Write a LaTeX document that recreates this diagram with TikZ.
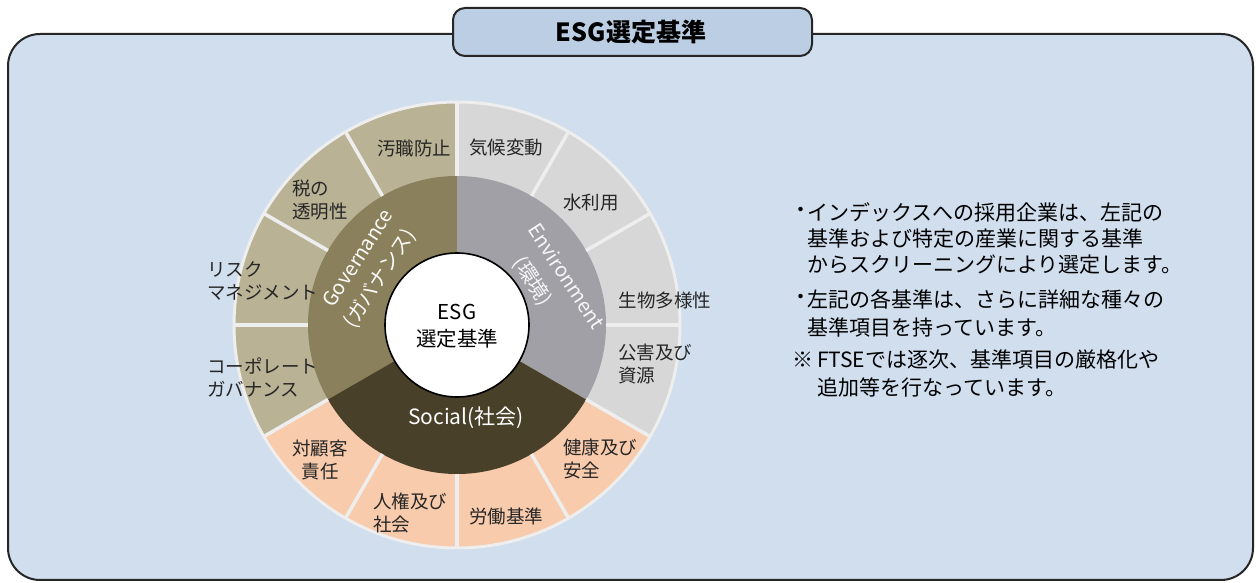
\documentclass[tikz,border=0pt]{standalone}
\usepackage{fontspec}
\setmainfont{Noto Sans CJK JP}
\usepackage{xcolor}
\usepackage{tikz}

\definecolor{boxblue}{HTML}{D0DEEE}
\definecolor{tabblue}{HTML}{BBCEE4}
\definecolor{govlight}{HTML}{B9B294}
\definecolor{govdark}{HTML}{8B805C}
\definecolor{envlight}{HTML}{D7D7D7}
\definecolor{envdark}{HTML}{A0A0A6}
\definecolor{soclight}{HTML}{F8CBAC}
\definecolor{socdark}{HTML}{484028}
\definecolor{seplight}{HTML}{EEEEEE}
\definecolor{inktext}{HTML}{262626}

\tikzset{
	segtxt/.style={font=\fontsize{18.5}{23}\selectfont, text=inktext, inner sep=0pt, align=left},
	ringtxt/.style={font=\fontsize{20}{24}\selectfont, inner sep=0pt},
	notetxt/.style={font=\fontsize{21}{27}\selectfont, text=black, inner sep=0pt, align=left},
}

\begin{document}
\begin{tikzpicture}[x=1pt,y=1pt]
	\useasboundingbox (0,0) rectangle (1256,583);

	% frame and title tab
	\draw[line width=2pt, draw=black!85, fill=boxblue, rounded corners=32pt] (8,3) rectangle (1253,549);
	\draw[line width=2pt, draw=black!85, fill=tabblue, rounded corners=12pt] (453,527) rectangle (812,575);
	\node[font=\fontsize{25}{28}\selectfont\bfseries] (title) at (631,551) {ESG選定基準};

	% wheel
	\begin{scope}[shift={(457,258)}]
		\fill[govlight] (0,0) -- (90:224pt) arc[start angle=90, end angle=210, radius=224pt] -- cycle;
		\fill[envlight] (0,0) -- (-30:224pt) arc[start angle=-30, end angle=90, radius=224pt] -- cycle;
		\fill[soclight] (0,0) -- (210:224pt) arc[start angle=210, end angle=330, radius=224pt] -- cycle;
		\fill[govdark] (0,0) -- (90:149pt) arc[start angle=90, end angle=210, radius=149pt] -- cycle;
		\fill[envdark] (0,0) -- (-30:149pt) arc[start angle=-30, end angle=90, radius=149pt] -- cycle;
		\fill[socdark] (0,0) -- (210:149pt) arc[start angle=210, end angle=330, radius=149pt] -- cycle;
		\foreach \a in {0,30,...,330}
			\draw[seplight, line width=3.5pt] (\a:149pt) -- (\a:224pt);
		\draw[seplight, line width=3pt] (0,0) circle[radius=223pt];
		\draw[line width=1.6pt, fill=white] (0,0) circle[radius=72pt];

		\node[ringtxt, text=white!95!govlight, rotate=57] (gov) at (146:120pt) {Governance};
		\node[ringtxt, text=white!95!govlight, rotate=57] (govjp) at (149:90pt) {(ガバナンス)};
		\node[ringtxt, text=white!92!envdark, rotate=-57] (env) at (24:120pt) {Environment};
		\node[ringtxt, text=white!92!envdark, rotate=-57] (envjp) at (30:87pt) {(環境)};
		\node[ringtxt, text=white, font=\fontsize{21}{24}\selectfont] (soc) at (9,-93) {Social(社会)};
		\node[ringtxt, align=center, font=\fontsize{20.5}{27}\selectfont] (esg) at (0,-1) {ESG\\選定基準};
	\end{scope}

	\node[segtxt] (corrupt) at (414,435) {汚職防止};
	\node[segtxt] (climate) at (506,435) {気候変動};
	\node[segtxt] (water) at (591,380) {水利用};
	\node[segtxt] (bio) at (665,283) {生物多様性};
	\node[segtxt, anchor=west] (pollution) at (618,219) {公害及び\\資源};
	\node[segtxt, anchor=west] (health) at (563,124) {健康及び\\安全};
	\node[segtxt] (labour) at (506,67) {労働基準};
	\node[segtxt, anchor=west] (rights) at (373,70) {人権及び\\社会};
	\node[segtxt, align=center] (customer) at (320,123) {対顧客\\責任};
	\node[segtxt, anchor=west] (corpgov) at (207,205) {コーポレート\\ガバナンス};
	\node[segtxt, anchor=west] (risk) at (207,302) {リスク\\マネジメント};
	\node[segtxt, anchor=west] (tax) at (292,383) {税の\\透明性};

	% notes on the right
	\node[notetxt] (markA) at (801,371) {・};
	\node[notetxt, anchor=west, font=\fontsize{21}{26}\selectfont] (noteA) at (807,345) {インデックスへの採用企業は、左記の\\基準および特定の産業に関する基準\\からスクリーニングにより選定します。};
	\node[notetxt] (markB) at (801,284) {・};
	\node[notetxt, anchor=west, font=\fontsize{21}{28}\selectfont] (noteB) at (807,270) {左記の各基準は、さらに詳細な種々の\\基準項目を持っています。};
	\node[notetxt] (markC) at (803,223) {※};
	\node[notetxt, anchor=west, font=\fontsize{21}{28}\selectfont] (noteC) at (817,209) {FTSEでは逐次、基準項目の厳格化や\\追加等を行なっています。};
\end{tikzpicture}
\end{document}
